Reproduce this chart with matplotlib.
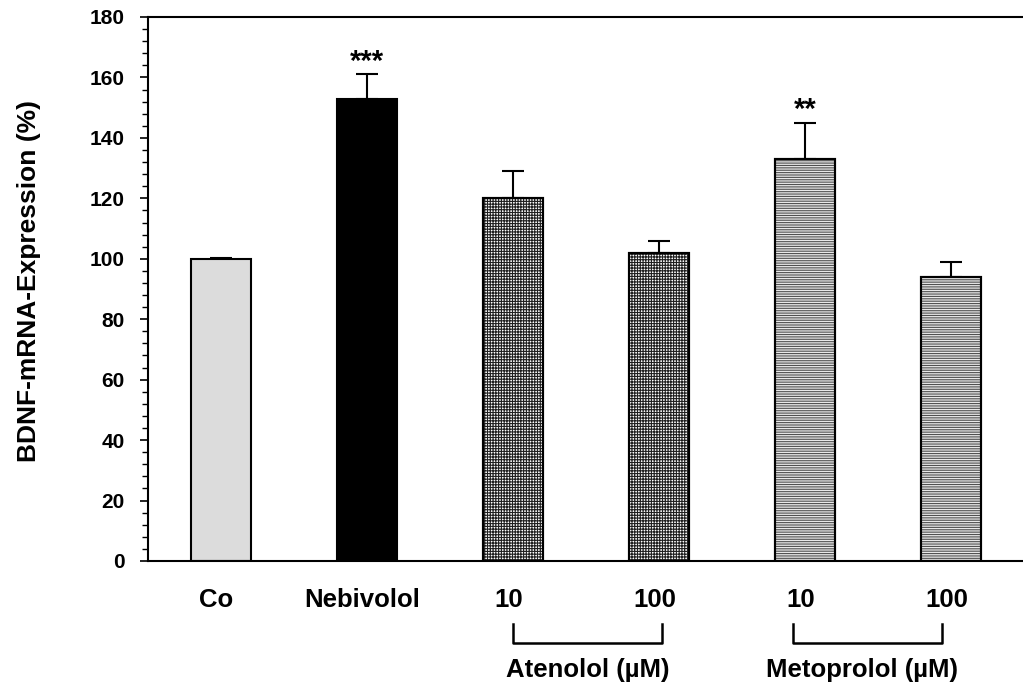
"""BDNF-mRNA expression bar chart (beta-blocker comparison)."""
import matplotlib
matplotlib.use("Agg")
import matplotlib.pyplot as plt
import numpy as np
from matplotlib.ticker import MultipleLocator

plt.rcParams['font.family'] = ['Liberation Sans', 'DejaVu Sans']
plt.rcParams['font.weight'] = 'bold'
plt.rcParams['hatch.linewidth'] = 0.8

labels = ['Co', 'Nebivolol', '10', '100', '10', '100']
values = [100, 153, 120, 102, 133, 94]
errors = [0.3, 8, 9, 4, 12, 5]
stars = ['', '***', '', '', '**', '']
groups = ['Atenolol (µM)', 'Metoprolol (µM)']

faces = ['#dcdcdc', 'black', 'white', 'white', '#e8e8e8', '#e8e8e8']
hatches = [None, None, '++++++', '++++++', '-------', '-------']
hatch_colors = ['black', 'black', '#202020', '#202020', '#505050', '#505050']

fig = plt.figure(figsize=(10.23, 6.87), dpi=100)
ax = fig.add_axes([148 / 1023, 126 / 687, 876 / 1023, 544 / 687])

x = np.arange(len(values))
for i in x:
    ax.bar(i, values[i], width=0.41, color=faces[i], edgecolor='black', linewidth=1.5,
           zorder=2)
    if hatches[i]:
        # hatch drawn separately in its own colour, outline repainted on top
        ax.bar(i, values[i], width=0.41, color='none', edgecolor=hatch_colors[i],
               linewidth=0, hatch=hatches[i], antialiased=False, zorder=2.5)
        ax.bar(i, values[i], width=0.41, color='none', edgecolor='black', linewidth=1.5,
               zorder=3)
    ax.errorbar(i, values[i], yerr=[[0], [errors[i]]], fmt='none', ecolor='black',
                elinewidth=1.5, capsize=8, capthick=1.5, zorder=1)
    if stars[i]:
        ax.text(i, values[i] + errors[i] - 0.5, stars[i], ha='center', va='bottom',
                fontsize=21, fontweight='bold')

ax.set_xlim(-0.5, 5.5)
ax.set_ylim(0, 180)
ax.yaxis.set_major_locator(MultipleLocator(20))
ax.yaxis.set_minor_locator(MultipleLocator(4))
ax.tick_params(axis='y', which='major', length=6, width=1.2, labelsize=15, pad=11)
ax.tick_params(axis='y', which='minor', length=4, width=1.0)
ax.set_xticks([])
for lbl in ax.get_yticklabels():
    lbl.set_fontweight('bold')
ax.spines['right'].set_visible(False)
for s in ['left', 'bottom', 'top']:
    ax.spines[s].set_linewidth(1.5)

ax.set_ylabel('BDNF-mRNA-Expression (%)', fontsize=19, fontweight='bold')
ax.yaxis.set_label_coords(-0.122, 0.515)

tr = ax.get_xaxis_transform()
for i, lab in enumerate(labels):
    ax.text(i - 0.03, -0.072, lab, transform=tr, ha='center', va='center',
            fontsize=18.5, fontweight='bold', clip_on=False)

# group brackets under the dose labels
for g, (a, b) in enumerate([(2.0, 3.02), (3.92, 4.94)]):
    y0, y1 = -0.116, -0.151
    ax.plot([a, a, b, b], [y0, y1, y1, y0], color='black', lw=1.8, transform=tr,
            clip_on=False)
    ax.text((a + b) / 2 - 0.04 * g, -0.2, groups[g], transform=tr, ha='center',
            va='center', fontsize=18.5, fontweight='bold', clip_on=False)

fig.savefig('out.png', dpi=100)
